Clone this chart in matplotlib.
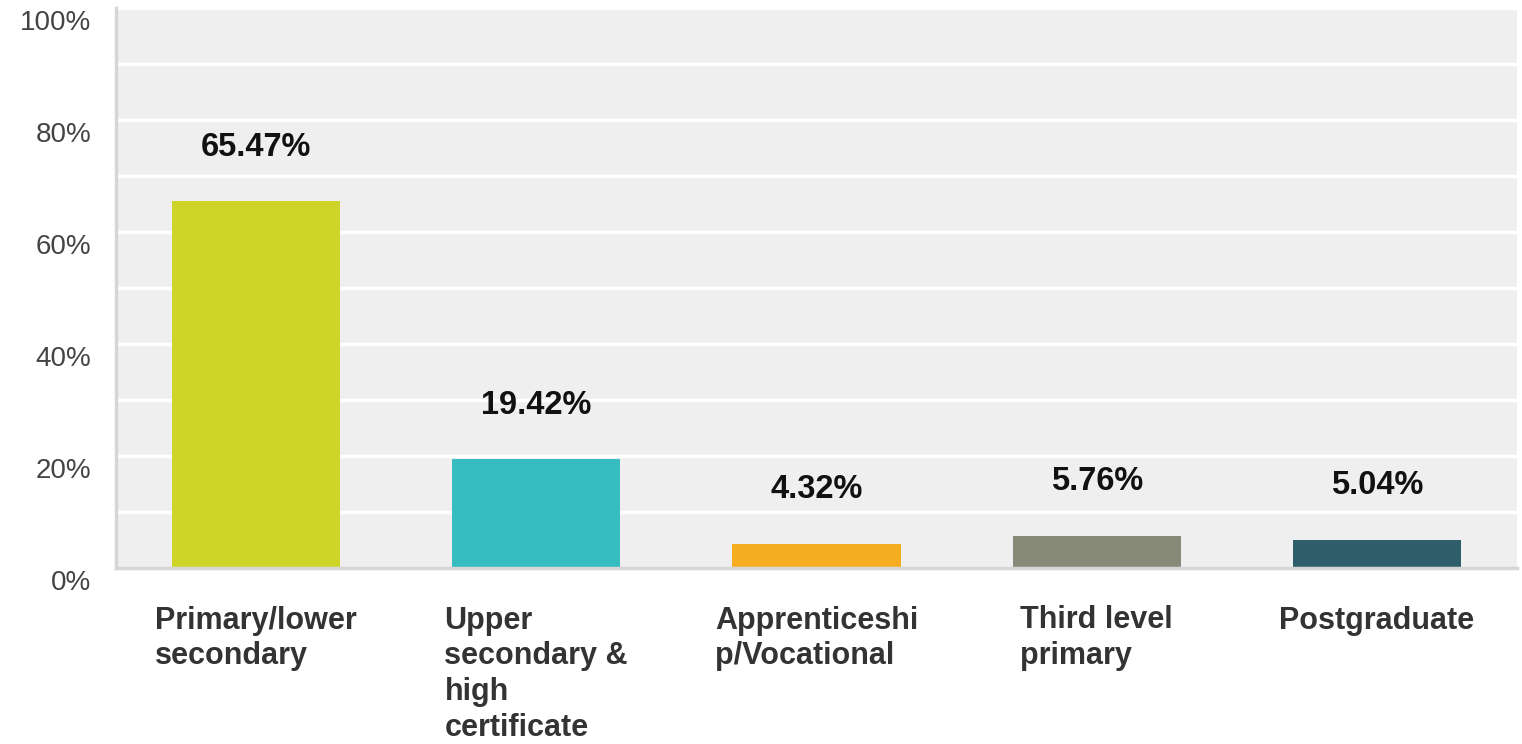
import matplotlib
matplotlib.use("Agg")
import matplotlib.pyplot as plt
from matplotlib.transforms import offset_copy
import numpy as np

categories = ["Primary/lower\nsecondary", "Upper\nsecondary &\nhigh\ncertificate",
              "Apprenticeshi\np/Vocational", "Third level\nprimary", "Postgraduate"]
values = [65.47, 19.42, 4.32, 5.76, 5.04]
value_labels = ["65.47%", "19.42%", "4.32%", "5.76%", "5.04%"]
colors = ["#CED428", "#35BDC0", "#F6AD1F", "#878A78", "#2D5E6A"]
ytick_values = [0, 20, 40, 60, 80, 100]
ytick_labels = ["0%", "20%", "40%", "60%", "80%", "100%"]

W, H = 1522, 744
fig = plt.figure(figsize=(W / 100, H / 100), dpi=100)
left, right, bottom, top = 116, 1517, 568, 8
ax = fig.add_axes([left / W, 1 - bottom / H, (right - left) / W, (bottom - top) / H])
ax.set_facecolor("#EFEFEF")

x = np.arange(len(categories))
ax.set_xlim(-0.5, len(categories) - 0.5)
ax.set_ylim(0, 100)

for yv in range(10, 101, 10):
    ax.axhline(yv, color="white", lw=2.5, zorder=1)

ax.bar(x, values, width=0.6, color=colors, zorder=2)

for xi, v, lab in zip(x, values, value_labels):
    ax.annotate(lab, (xi, v), xytext=(0, 39), textcoords="offset points",
                ha="center", va="center", fontsize=23.5, fontweight="bold",
                family="Liberation Sans", color="#111111", zorder=3)

for s in ["top", "right"]:
    ax.spines[s].set_visible(False)
for s in ["left", "bottom"]:
    ax.spines[s].set_color("#D6D6D6")
    ax.spines[s].set_linewidth(2.5)

ax.set_yticks(ytick_values)
ax.set_yticklabels(ytick_labels, fontsize=20, family="Liberation Sans", color="#444444")
ax.tick_params(axis="y", length=0, pad=18)
for lbl in ax.get_yticklabels():
    lbl.set_transform(offset_copy(lbl.get_transform(), fig=fig, x=0, y=-12, units="dots"))

ax.set_xticks(x)
ax.set_xticklabels(categories, fontsize=22, fontweight="bold", family="Liberation Sans",
                   color="#333333", linespacing=1.25, va="top")
for lbl in ax.get_xticklabels():
    lbl.set_multialignment("left")
ax.tick_params(axis="x", length=0, pad=27)

fig.savefig("out.png", dpi=100)
